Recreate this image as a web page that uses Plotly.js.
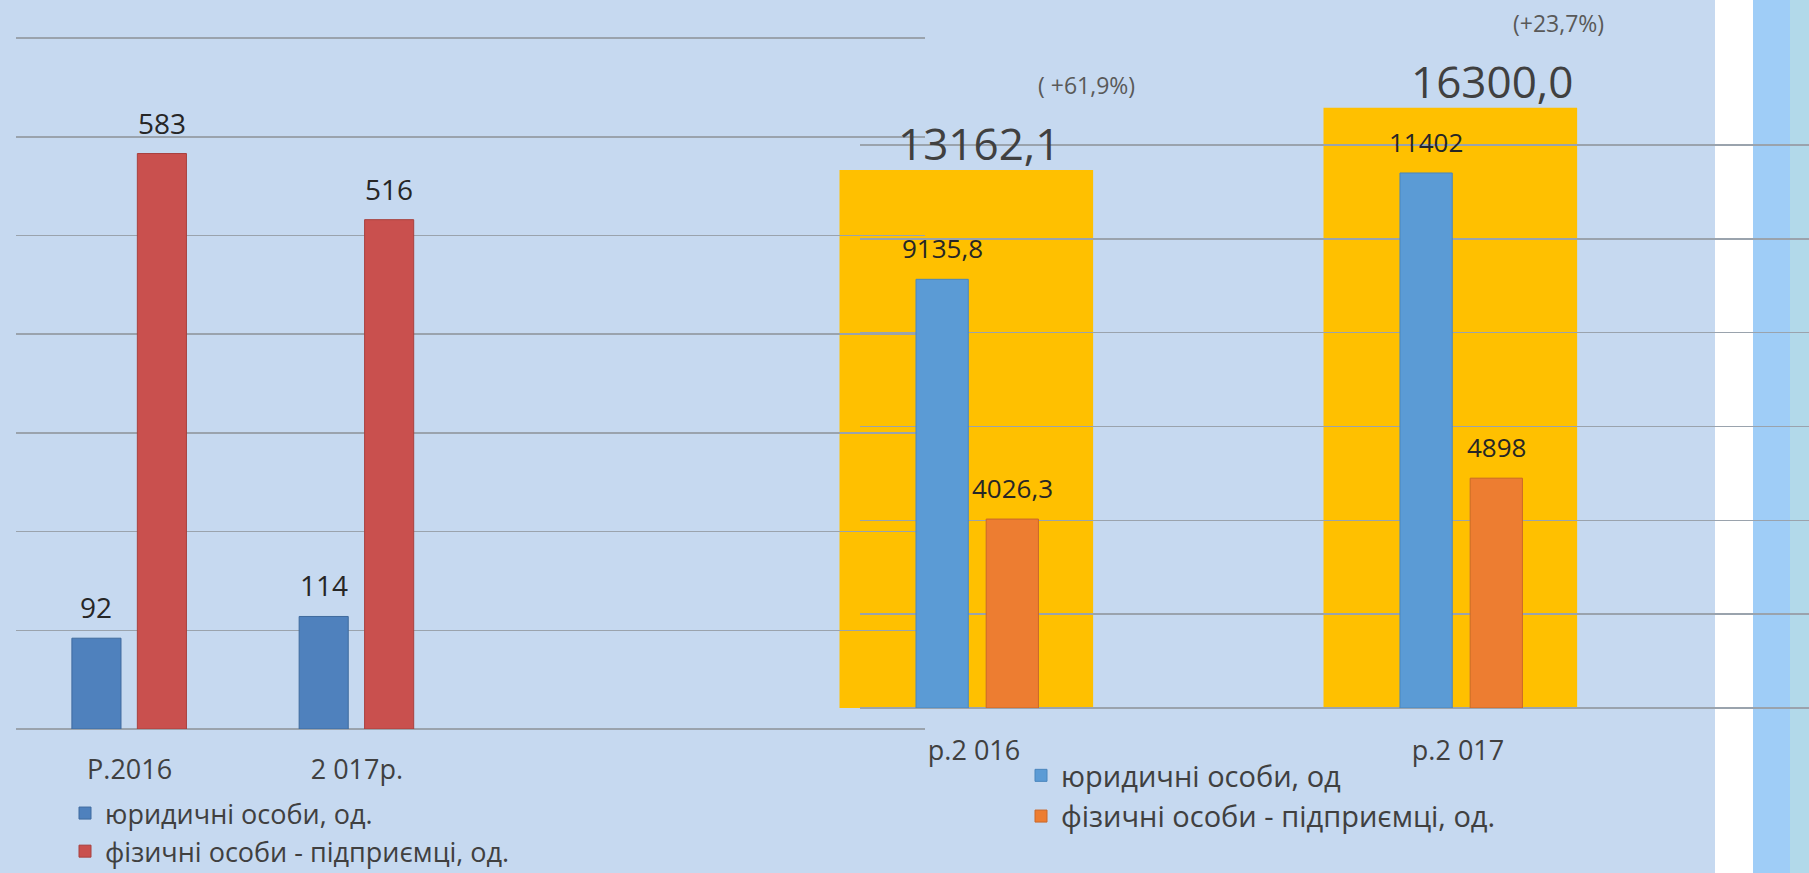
<!DOCTYPE html>
<html>
<head>
<meta charset="utf-8">
<script src="https://cdn.plot.ly/plotly-3.0.1.min.js"></script>
<style>
  html, body { margin: 0; padding: 0; background: #C6D9F0; }
  #grafico { width: 1809px; height: 873px; }
</style>
</head>
<body>
<div id="grafico"></div>
<script>
// ліва діаграма - кількість платників
var rokyKilkist = ['Р.2016', '2 017р.'];
var yurKilkist = [92, 114];
var fopKilkist = [583, 516];

// права діаграма - надходження
var rokyNadkh = ['р.2 016', 'р.2 017'];
var yurNadkh = [9135.8, 11402];
var fopNadkh = [4026.3, 4898];
var razomNadkh = [13162.1, 16300.0];
var pryrist = ['( +61,9%)', '(+23,7%)'];

var nazvyLivo = ['юридичні особи, од.', 'фізичні особи - підприємці, од.'];
var nazvyPravo = ['юридичні особи, од', 'фізичні особи - підприємці, од.'];

// розміри сторінки, в пікселях
var W = 1809, H = 873;
function gx(px) { return px / W; }
function gy(py) { return 1 - py / H; }

var shryft = 'Open Sans, Liberation Sans, sans-serif';
var sitka = '#9aa3ad';

// ширина і зсув стовпчиків всередині групи
var livaShyryna = 0.216, livaZsuv = [-0.254, 0.034];
var pravaShyryna = 0.108, pravaZsuv = [-0.124, 0.021];
var zolotoShyryna = 0.524, zolotoZsuv = -0.282;

function koma(v) { return String(v).replace('.', ','); }
function pozytsii(n) { var p = []; for (var i = 0; i < n; i++) p.push(i); return p; }

var xLivo = pozytsii(rokyKilkist.length);
var xPravo = pozytsii(rokyNadkh.length);

var data = [
    // жовті прямокутники з загальною сумою
    {
        type: 'bar', x: xPravo, y: razomNadkh, xaxis: 'x', yaxis: 'y',
        width: zolotoShyryna, offset: zolotoZsuv,
        marker: { color: '#FFC000', line: { width: 0 } },
        showlegend: false, hoverinfo: 'skip'
    },
    {
        type: 'bar', x: xLivo, y: yurKilkist, xaxis: 'x2', yaxis: 'y2',
        name: nazvyLivo[0], legend: 'legend',
        width: livaShyryna, offset: livaZsuv[0],
        marker: { color: '#4F81BD', line: { color: '#3f6a9e', width: 1 } }
    },
    {
        type: 'bar', x: xLivo, y: fopKilkist, xaxis: 'x2', yaxis: 'y2',
        name: nazvyLivo[1], legend: 'legend',
        width: livaShyryna, offset: livaZsuv[1],
        marker: { color: '#C9504E', line: { color: '#a8403e', width: 1 } }
    },
    {
        type: 'bar', x: xPravo, y: yurNadkh, xaxis: 'x3', yaxis: 'y3',
        name: nazvyPravo[0], legend: 'legend2',
        width: pravaShyryna, offset: pravaZsuv[0],
        marker: { color: '#5B9BD5', line: { color: '#4a86bd', width: 1 } }
    },
    {
        type: 'bar', x: xPravo, y: fopNadkh, xaxis: 'x3', yaxis: 'y3',
        name: nazvyPravo[1], legend: 'legend2',
        width: pravaShyryna, offset: pravaZsuv[1],
        marker: { color: '#ED7D31', line: { color: '#c9692a', width: 1 } }
    }
];

// підписи значень
var pidpysy = [];
function dodatyPidpysy(znach, zsuv, shyr, xa, ya, rozmir) {
    for (var i = 0; i < znach.length; i++) {
        pidpysy.push({
            x: i + zsuv + shyr / 2, y: znach[i], xref: xa, yref: ya,
            text: koma(znach[i]), showarrow: false, yanchor: 'middle', yshift: 31,
            font: { family: shryft, size: rozmir, color: '#262626' }
        });
    }
}
dodatyPidpysy(yurKilkist, livaZsuv[0], livaShyryna, 'x2', 'y2', 28);
dodatyPidpysy(fopKilkist, livaZsuv[1], livaShyryna, 'x2', 'y2', 28);
dodatyPidpysy(yurNadkh, pravaZsuv[0], pravaShyryna, 'x3', 'y3', 26);
dodatyPidpysy(fopNadkh, pravaZsuv[1], pravaShyryna, 'x3', 'y3', 26);

// загальна сума і приріст над жовтими прямокутниками
var sumaZsuvX = [13, 42];
var pryristZsuvX = [120, 108];
for (var i = 0; i < razomNadkh.length; i++) {
    var centr = i + zolotoZsuv + zolotoShyryna / 2;
    pidpysy.push({
        x: centr, y: Math.log10(razomNadkh[i]), xref: 'x', yref: 'y',
        text: razomNadkh[i].toFixed(1).replace('.', ','), showarrow: false,
        yanchor: 'middle', yshift: 27, xshift: sumaZsuvX[i],
        font: { family: shryft, size: 44, color: '#404040' }
    });
    pidpysy.push({
        x: centr, y: Math.log10(razomNadkh[i]), xref: 'x', yref: 'y',
        text: pryrist[i], showarrow: false,
        yanchor: 'middle', yshift: 85, xshift: pryristZsuvX[i],
        font: { family: shryft, size: 23, color: '#595959' }
    });
}

var pravaX = { domain: [gx(860), 1], range: [-0.2397, 1.7211] };
var pravaY = { domain: [gy(708), gy(98)] };

var layout = {
    width: W, height: H,
    margin: { l: 0, r: 0, t: 0, b: 0, autoexpand: false },
    paper_bgcolor: '#C6D9F0',
    plot_bgcolor: 'rgba(0,0,0,0)',
    barmode: 'overlay',
    showlegend: true,
    font: { family: shryft, color: '#404040' },
    // жовті прямокутники (логарифмічна шкала, прихована)
    xaxis: { domain: [gx(820), 1], range: [-0.3223, 1.7211], visible: false },
    yaxis: { domain: pravaY.domain, type: 'log', range: [3.3174, 4.2267], visible: false },
    // ліва діаграма
    xaxis2: {
        domain: [gx(16), gx(925)], range: [-0.5, 3.5], anchor: 'y2',
        tickvals: xLivo, ticktext: rokyKilkist, ticks: '', ticklabelstandoff: 22,
        showgrid: false, zeroline: false, showline: false,
        tickfont: { family: shryft, size: 27, color: '#404040' }
    },
    yaxis2: {
        domain: [gy(729), gy(18.3)], range: [0, 720], anchor: 'x2', dtick: 100,
        showticklabels: false, ticks: '', showgrid: true, gridcolor: sitka, gridwidth: 1.5,
        zeroline: true, zerolinecolor: sitka, zerolinewidth: 1.5
    },
    // права діаграма
    xaxis3: {
        domain: pravaX.domain, range: pravaX.range, anchor: 'y3',
        tickvals: xPravo, ticktext: rokyNadkh, ticks: '', ticklabelstandoff: 24, ticklabelshift: -2,
        showgrid: false, zeroline: false, showline: false,
        tickfont: { family: shryft, size: 27, color: '#404040' }
    },
    yaxis3: {
        domain: pravaY.domain, range: [0, 13000], anchor: 'x3', dtick: 2000,
        showticklabels: false, ticks: '', showgrid: true, gridcolor: sitka, gridwidth: 1.5,
        zeroline: true, zerolinecolor: sitka, zerolinewidth: 1.5
    },
    legend: {
        x: gx(65), y: gy(789), xanchor: 'left', yanchor: 'top',
        bgcolor: 'rgba(0,0,0,0)', traceorder: 'normal',
        font: { family: shryft, size: 27, color: '#404040' }
    },
    legend2: {
        x: gx(1021), y: gy(750), xanchor: 'left', yanchor: 'top',
        bgcolor: 'rgba(0,0,0,0)', traceorder: 'normal',
        font: { family: shryft, size: 29, color: '#404040' }
    },
    annotations: pidpysy,
    shapes: [
        // біла і блакитна смуги справа
        { type: 'rect', xref: 'paper', yref: 'paper', layer: 'below',
          x0: gx(1715), x1: gx(1753), y0: 0, y1: 1, line: { width: 0 }, fillcolor: '#FFFFFF' },
        { type: 'rect', xref: 'paper', yref: 'paper', layer: 'below',
          x0: gx(1753), x1: gx(1790), y0: 0, y1: 1, line: { width: 0 }, fillcolor: '#9FCDF7' },
        { type: 'rect', xref: 'paper', yref: 'paper', layer: 'below',
          x0: gx(1790), x1: 1, y0: 0, y1: 1, line: { width: 0 }, fillcolor: '#B2D9EA' }
    ]
};

Plotly.newPlot('grafico', data, layout, { displayModeBar: false, staticPlot: true });
</script>
</body>
</html>
